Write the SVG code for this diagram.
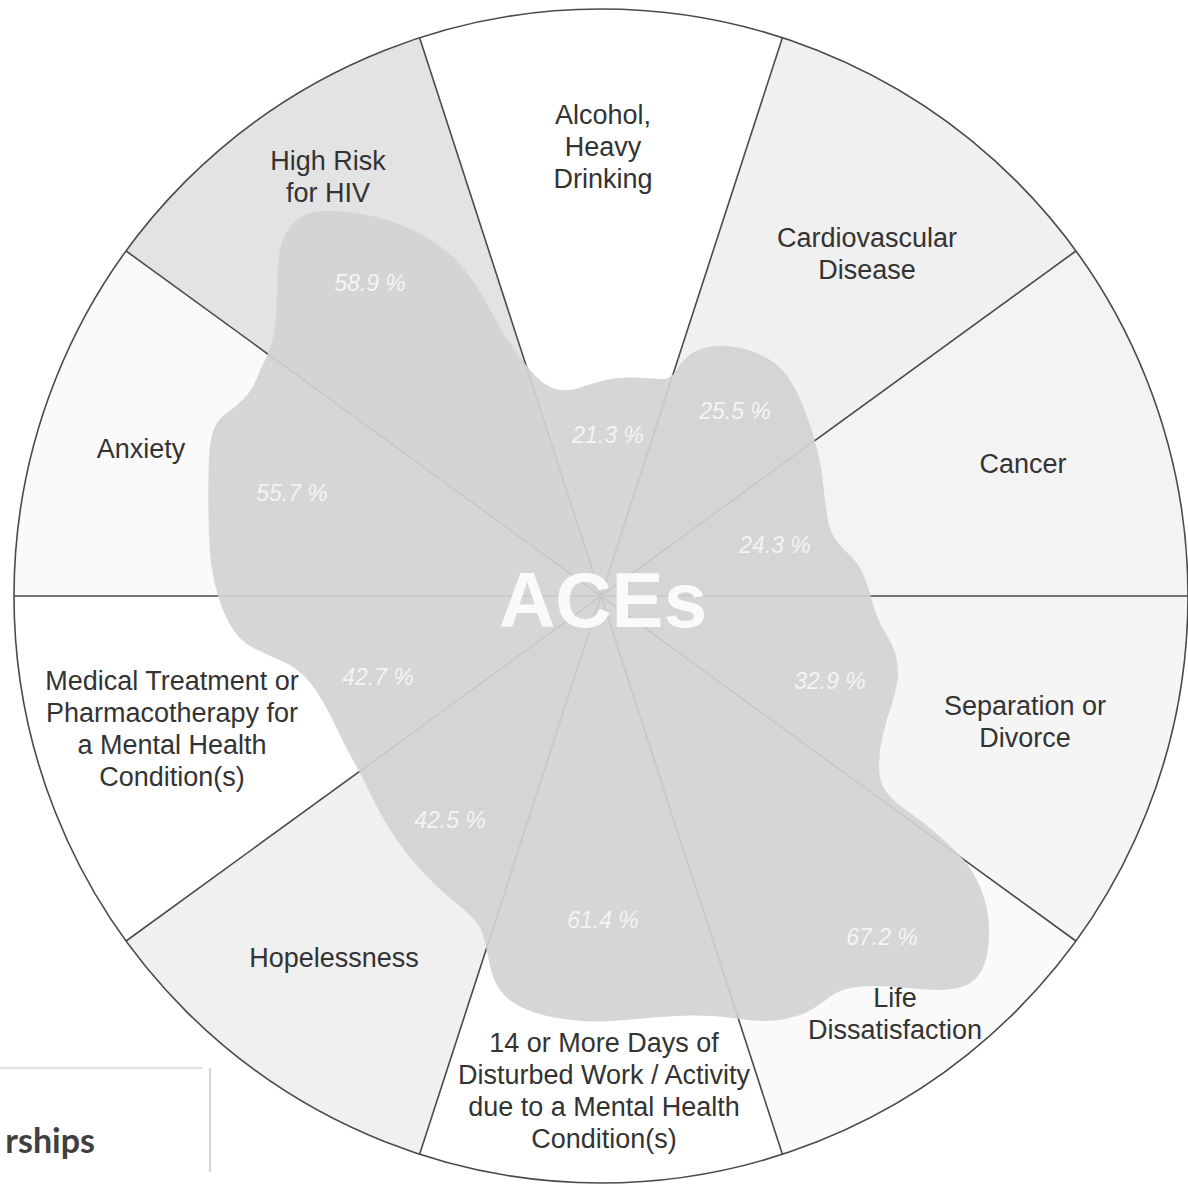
<svg xmlns="http://www.w3.org/2000/svg" width="1188" height="1185" viewBox="0 0 1188 1185">
<style>
.lbl{font-family:"Liberation Sans",Arial,sans-serif;font-size:27px;fill:#333;text-anchor:middle}
.pct{font-family:"Liberation Sans",Arial,sans-serif;font-size:23px;font-style:italic;fill:#f4f4f4;text-anchor:middle}
.spoke{stroke:#4a4a4a;stroke-width:1.6;fill:none}
.sec{stroke:none}
</style>
<rect width="1188" height="1185" fill="#ffffff"/>
<g id="partial-box">
<line x1="0" y1="1068" x2="202" y2="1068" stroke="#e2e2e2" stroke-width="2"/>
<line x1="210" y1="1068" x2="210" y2="1172" stroke="#d4d4d4" stroke-width="2"/>
<text x="95" y="1153" text-anchor="end" style="font-family:Lato,'Open Sans',sans-serif;font-weight:bold;font-size:34px;fill:#404040">rships</text>
</g>
<g id="node-alcohol"><path class="sec" fill="#ffffff" d="M601,596 L419.6,37.7 A587,587 0 0 1 782.4,37.7 Z"/>
<text class="lbl" x="603"><tspan x="603" y="124">Alcohol,</tspan><tspan x="603" y="156">Heavy</tspan><tspan x="603" y="188">Drinking</tspan></text></g>
<g id="node-cardiovascular"><path class="sec" fill="#f0f0f0" d="M601,596 L782.4,37.7 A587,587 0 0 1 1075.9,251 Z"/>
<text class="lbl"><tspan x="867" y="247">Cardiovascular</tspan><tspan x="867" y="279">Disease</tspan></text></g>
<g id="node-cancer"><path class="sec" fill="#f3f3f3" d="M601,596 L1075.9,251 A587,587 0 0 1 1188,596 Z"/>
<text class="lbl" x="1023" y="473">Cancer</text></g>
<g id="node-separation"><path class="sec" fill="#f5f5f5" d="M601,596 L1188,596 A587,587 0 0 1 1075.9,941 Z"/>
<text class="lbl"><tspan x="1025" y="715">Separation or</tspan><tspan x="1025" y="747">Divorce</tspan></text></g>
<g id="node-life"><path class="sec" fill="#fafafa" d="M601,596 L1075.9,941 A587,587 0 0 1 782.4,1154.3 Z"/>
<text class="lbl"><tspan x="895" y="1007">Life</tspan><tspan x="895" y="1039">Dissatisfaction</tspan></text></g>
<g id="node-days"><path class="sec" fill="#ffffff" d="M601,596 L782.4,1154.3 A587,587 0 0 1 419.6,1154.3 Z"/>
<text class="lbl"><tspan x="604" y="1052">14 or More Days of</tspan><tspan x="604" y="1084">Disturbed Work / Activity</tspan><tspan x="604" y="1116">due to a Mental Health</tspan><tspan x="604" y="1148">Condition(s)</tspan></text></g>
<g id="node-hopelessness"><path class="sec" fill="#f0f0f0" d="M601,596 L419.6,1154.3 A587,587 0 0 1 126.1,941 Z"/>
<text class="lbl" x="334" y="967">Hopelessness</text></g>
<g id="node-medical"><path class="sec" fill="#ffffff" d="M601,596 L126.1,941 A587,587 0 0 1 14,596 Z"/>
<text class="lbl"><tspan x="172" y="690">Medical Treatment or</tspan><tspan x="172" y="722">Pharmacotherapy for</tspan><tspan x="172" y="754">a Mental Health</tspan><tspan x="172" y="786">Condition(s)</tspan></text></g>
<g id="node-anxiety"><path class="sec" fill="#fafafa" d="M601,596 L14,596 A587,587 0 0 1 126.1,251 Z"/>
<text class="lbl" x="141" y="458">Anxiety</text></g>
<g id="node-hiv"><path class="sec" fill="#e3e3e3" d="M601,596 L126.1,251 A587,587 0 0 1 419.6,37.7 Z"/>
<text class="lbl"><tspan x="328" y="170">High Risk</tspan><tspan x="328" y="202">for HIV</tspan></text></g>
<g id="connectors">
<circle class="spoke" cx="601" cy="596" r="587"/>
<line class="spoke" x1="601" y1="596" x2="419.6" y2="37.7"/>
<line class="spoke" x1="601" y1="596" x2="782.4" y2="37.7"/>
<line class="spoke" x1="601" y1="596" x2="1075.9" y2="251"/>
<line class="spoke" x1="601" y1="596" x2="1188" y2="596"/>
<line class="spoke" x1="601" y1="596" x2="1075.9" y2="941"/>
<line class="spoke" x1="601" y1="596" x2="782.4" y2="1154.3"/>
<line class="spoke" x1="601" y1="596" x2="419.6" y2="1154.3"/>
<line class="spoke" x1="601" y1="596" x2="126.1" y2="941"/>
<line class="spoke" x1="601" y1="596" x2="14" y2="596"/>
<line class="spoke" x1="601" y1="596" x2="126.1" y2="251"/>
</g>
<g id="aces-blob">
<path fill="#d2d2d2" fill-opacity="0.92" d="M516.5,352.5 Q527,367 536,376.5 Q545,386 556,389 Q567,392 578.5,388 Q590,384 603.5,380.5 Q617,377 633.5,377.5 Q650,378 660,379 Q670,380 675,372 Q680,364 687,357 Q694,350 709,347 Q724,344 740.5,348 Q757,352 768.5,359 Q780,366 787.5,376.5 Q795,387 800.5,400 Q806,413 810.5,426.5 Q815,440 818.5,455 Q822,470 823.5,486.5 Q825,503 827.5,518 Q830,533 836.5,541 Q843,549 850,555.5 Q857,562 862,572 Q867,582 870,593.5 Q873,605 876.5,615 Q880,625 886.5,635 Q893,645 896,656.5 Q899,668 897.5,680 Q896,692 891.5,705 Q887,718 883,734 Q879,750 879,766 Q879,782 886,791.5 Q893,801 907.5,811 Q922,821 937,834 Q952,847 962,858 Q972,869 979,884.5 Q986,900 988,916.5 Q990,933 988,948.5 Q986,964 979.5,974 Q973,984 960,987.5 Q947,991 927,989.5 Q907,988 887.5,986.5 Q868,985 853,987.5 Q838,990 829,997.5 Q820,1005 810,1010.5 Q800,1016 785,1019 Q770,1022 755,1020.5 Q740,1019 724,1017 Q708,1015 690,1015.5 Q672,1016 654.5,1017.5 Q637,1019 618.5,1020.5 Q600,1022 582.5,1021 Q565,1020 549,1016.5 Q533,1013 520,1006.5 Q507,1000 500,990 Q493,980 490,966 Q487,952 484.5,940 Q482,928 474,919.5 Q466,911 453,900.5 Q440,890 426.5,876 Q413,862 403,848.5 Q393,835 385,821.5 Q377,808 369.5,792 Q362,776 354,762 Q346,748 337,729 Q328,710 319.5,696 Q311,682 301.5,673.5 Q292,665 278.5,659.5 Q265,654 252.5,647.5 Q240,641 232,628 Q224,615 219,599 Q214,583 211.5,566.5 Q209,550 208.5,515 Q208,480 209,458.5 Q210,437 214.5,427.5 Q219,418 227.5,412.5 Q236,407 244,398.5 Q252,390 256.5,379 Q261,368 265.5,359 Q270,350 273,337.5 Q276,325 276.5,307.5 Q277,290 277.5,274 Q278,258 281,246 Q284,234 291,225.5 Q298,217 309,213.5 Q320,210 336,211 Q352,212 371,216 Q390,220 406,227 Q422,234 437,244 Q452,254 464,269 Q476,284 483,297 Q490,310 498,324 Q506,338 516.5,352.5 Z"/>
<text x="603" y="627" text-anchor="middle" style="font-family:'Liberation Sans',Arial,sans-serif;font-weight:bold;font-size:78px;fill:#fafafa">ACEs</text>
<text class="pct" x="370" y="291">58.9 %</text>
<text class="pct" x="608" y="443">21.3 %</text>
<text class="pct" x="735" y="419">25.5 %</text>
<text class="pct" x="775" y="553">24.3 %</text>
<text class="pct" x="830" y="689">32.9 %</text>
<text class="pct" x="882" y="945">67.2 %</text>
<text class="pct" x="603" y="928">61.4 %</text>
<text class="pct" x="450" y="828">42.5 %</text>
<text class="pct" x="378" y="685">42.7 %</text>
<text class="pct" x="292" y="501">55.7 %</text>
</g>
</svg>
